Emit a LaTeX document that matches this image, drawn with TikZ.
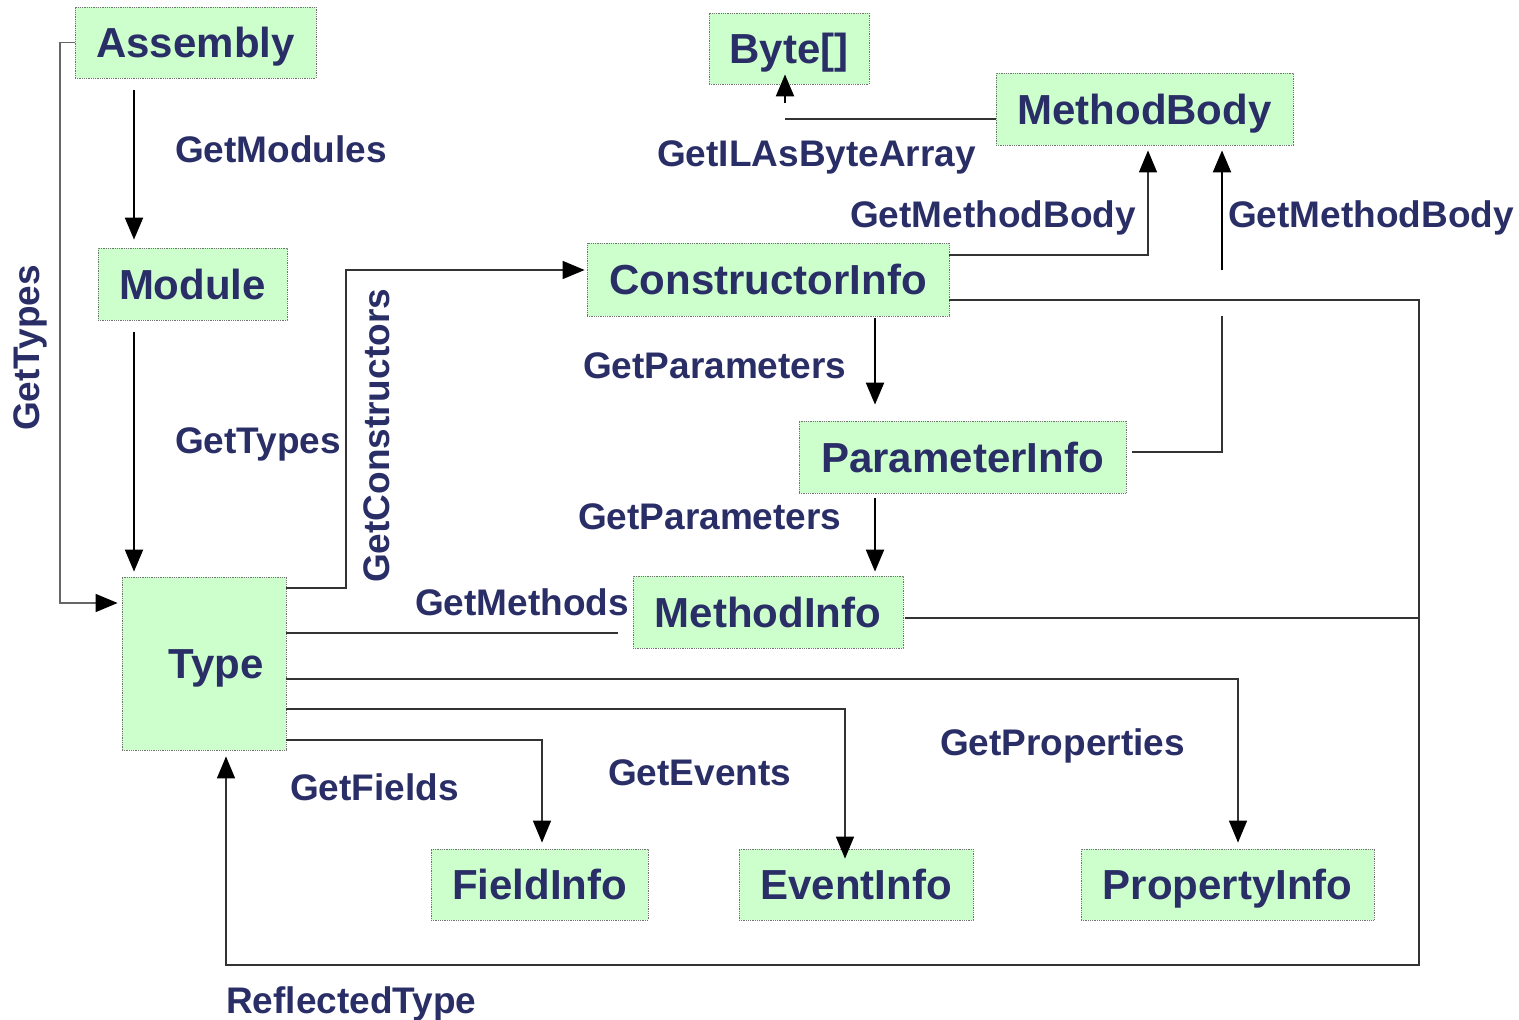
\documentclass[tikz,border=0pt]{standalone}
\usepackage{fontspec}
\setmainfont{Liberation Sans}
\usetikzlibrary{arrows.meta}
\definecolor{navy}{RGB}{42,46,102}
\definecolor{boxgreen}{RGB}{204,255,204}
\newcommand\boxfont{\fontsize{42}{48}\selectfont\bfseries}
\newcommand\lblfont{\fontsize{37}{44}\selectfont\bfseries}
\tikzset{
  box/.style={draw=black!55, densely dotted, line width=0.8pt, fill=boxgreen, inner sep=0pt, font=\boxfont, text=navy, text height=30pt, text depth=0pt},
  lbl/.style={font=\lblfont, text=navy, inner sep=0pt, anchor=base west},
  rlbl/.style={font=\lblfont, text=navy, inner sep=0pt, anchor=base, rotate=90},
  headtip/.style={-{Triangle[length=22pt,width=18pt,color=black]}},
  arr/.style={draw=black, line width=2.2pt, headtip},
  ln/.style={draw=black!80, line width=1.5pt},
}
\begin{document}
\begin{tikzpicture}[x=1pt,y=-1pt]
\useasboundingbox (0,0) rectangle (1519,1020);
% boxes
\node[box, minimum width=241pt, minimum height=71pt] (asm) at (195.5,42.5) {Assembly};
\node[box, minimum width=160pt, minimum height=71pt] (byte) at (789,48.5) {Byte[]};
\node[box, minimum width=297pt, minimum height=72pt] (mb) at (1144.5,109) {MethodBody};
\node[box, minimum width=189pt, minimum height=72pt] (mod) at (192.5,284) {Module};
\node[box, minimum width=362pt, minimum height=73pt] (ctor) at (768,279.5) {ConstructorInfo};
\node[box, minimum width=327pt, minimum height=72pt] (pinfo) at (962.5,457) {ParameterInfo};
\node[box, minimum width=270pt, minimum height=72pt] (minfo) at (768,612) {MethodInfo};
\node[box, minimum width=164pt, minimum height=173pt] (type) at (204,663.5) {\hspace*{24pt}Type};
\node[box, minimum width=217pt, minimum height=71pt] (fld) at (539.5,884.5) {FieldInfo};
\node[box, minimum width=234pt, minimum height=71pt] (evt) at (856,884.5) {EventInfo};
\node[box, minimum width=293pt, minimum height=71pt] (prop) at (1227.5,884.5) {PropertyInfo};
% helper coordinates
\coordinate (x134) at (134,0);
\coordinate (x226) at (226,0);
\coordinate (x542) at (542,0);
\coordinate (x785) at (785,0);
\coordinate (x845) at (845,0);
\coordinate (x875) at (875,0);
\coordinate (x1148) at (1148,0);
\coordinate (x1222) at (1222,0);
\coordinate (x1238) at (1238,0);
\coordinate (y119) at (0,119);
\coordinate (y255) at (0,255);
\coordinate (y270) at (0,270);
\coordinate (y300) at (0,300);
\coordinate (y452) at (0,452);
\coordinate (y588) at (0,588);
\coordinate (y603) at (0,603);
\coordinate (y618) at (0,618);
\coordinate (y633) at (0,633);
\coordinate (y679) at (0,679);
\coordinate (y709) at (0,709);
\coordinate (y740) at (0,740);
\coordinate (mEnd) at (618,633);
\coordinate (ilEnd) at (785,119);
\coordinate (ilStart) at (785,103);
\coordinate (pEnd) at (1222,316);
\coordinate (pStart) at (1222,270);
% connectors
\draw[arr, shorten <=12pt, shorten >=8pt] (x134 |- asm.south) -- (x134 |- mod.north);
\draw[arr, shorten <=12pt, shorten >=5pt] (x134 |- mod.south) -- (x134 |- type.north);
\draw[ln, draw=black!60, headtip, shorten >=4pt] (asm.west) -| (60,603) -- (type.west |- y603);
\draw[ln, headtip, shorten >=2pt] (type.east |- y588) -| (346,270) -- (ctor.west |- y270);
\draw[ln] (type.east |- y633) -- (mEnd);
\draw[ln, headtip, shorten >=6pt] (type.east |- y679) -| (x1238 |- prop.north);
\draw[ln, headtip, shorten >=-10pt] (type.east |- y709) -| (x845 |- evt.north);
\draw[ln, headtip, shorten >=6pt] (type.east |- y740) -| (x542 |- fld.north);
\draw[ln, headtip, shorten >=6pt] (ctor.east |- y300) -| (1419,965) -| (x226 |- type.south);
\draw[ln, shorten <=2pt] (minfo.east |- y618) -- (1419,618);
\draw[arr, shorten <=2pt, shorten >=16pt] (x875 |- ctor.south) -- (x875 |- pinfo.north);
\draw[arr, shorten <=5pt, shorten >=4pt] (x875 |- pinfo.south) -- (x875 |- minfo.north);
\draw[ln, headtip, shorten >=5pt] (ctor.east |- y255) -| (x1148 |- mb.south);
\draw[ln, shorten <=6pt] (pinfo.east |- y452) -| (pEnd);
\draw[arr, shorten >=5pt] (pStart) -- (x1222 |- mb.south);
\draw[ln] (mb.west |- y119) -- (ilEnd);
\draw[arr, shorten >=-10pt] (ilStart) -- (x785 |- byte.south);
% labels
\node[lbl] (lGM) at (175,162) {GetModules};
\node[lbl] (lGT) at (175,453) {GetTypes};
\node[lbl] (lIL) at (657,166) {GetILAsByteArray};
\node[lbl] (lMB1) at (850,227) {GetMethodBody};
\node[lbl] (lMB2) at (1228,227) {GetMethodBody};
\node[lbl] (lP1) at (583,378) {GetParameters};
\node[lbl] (lP2) at (578,529) {GetParameters};
\node[lbl] (lMe) at (415,615) {GetMethods};
\node[lbl] (lPr) at (940,755) {GetProperties};
\node[lbl] (lEv) at (608,785) {GetEvents};
\node[lbl] (lFi) at (290,800) {GetFields};
\node[lbl] (lRT) at (226,1013) {ReflectedType};
\node[rlbl] (lGT2) at (39,348) {GetTypes};
\node[rlbl] (lGC) at (389,436) {GetConstructors};
\end{tikzpicture}
\end{document}
